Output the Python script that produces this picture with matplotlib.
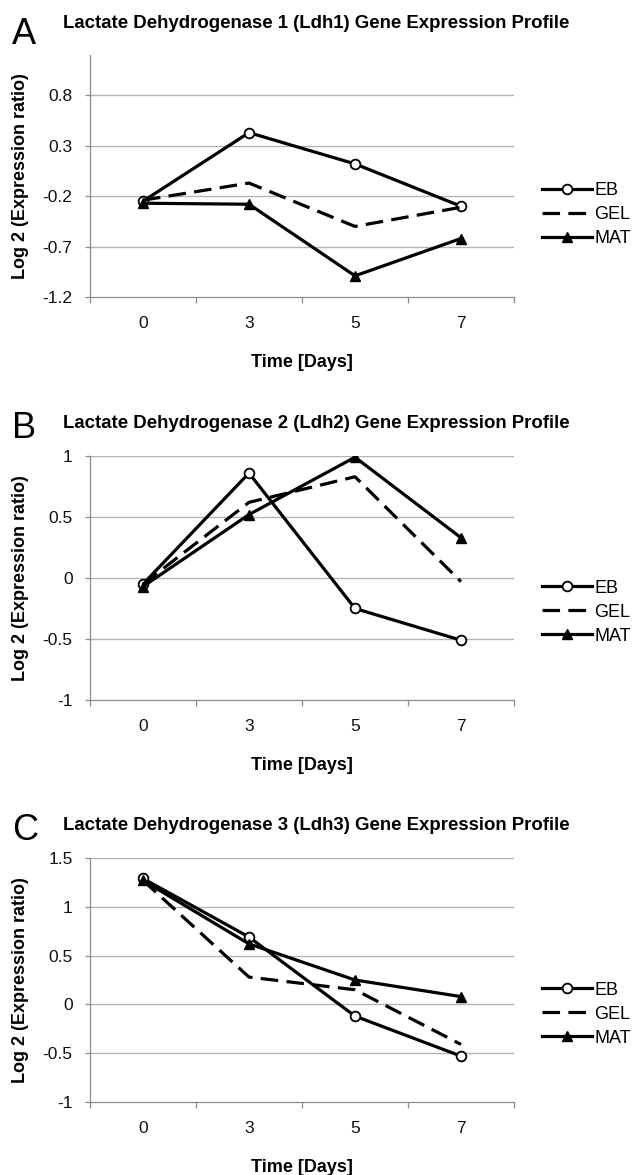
import matplotlib
matplotlib.use("Agg")
import matplotlib.pyplot as plt
from matplotlib.ticker import FixedLocator, FuncFormatter, NullFormatter

plt.rcParams['font.family'] = ['Liberation Sans', 'DejaVu Sans']

# x categories (days)
days = ['0', '3', '5', '7']
series_names = ['EB', 'GEL', 'MAT']

# Panel A: Ldh1
ldh1_eb = [-0.25, 0.43, 0.12, -0.30]
ldh1_gel = [-0.24, -0.07, -0.50, -0.31]
ldh1_mat = [-0.27, -0.28, -0.99, -0.62]
ldh1_yticks = [-1.2, -0.7, -0.2, 0.3, 0.8]
ldh1_ylim = (-1.2, 1.2)

# Panel B: Ldh2
ldh2_eb = [-0.05, 0.86, -0.25, -0.51]
ldh2_gel = [-0.05, 0.62, 0.83, -0.03]
ldh2_mat = [-0.07, 0.52, 0.99, 0.33]
ldh2_yticks = [-1, -0.5, 0, 0.5, 1]
ldh2_ylim = (-1, 1)

# Panel C: Ldh3
ldh3_eb = [1.29, 0.69, -0.12, -0.53]
ldh3_gel = [1.27, 0.28, 0.15, -0.41]
ldh3_mat = [1.27, 0.62, 0.25, 0.08]
ldh3_yticks = [-1, -0.5, 0, 0.5, 1, 1.5]
ldh3_ylim = (-1, 1.5)

titles = [
    'Lactate Dehydrogenase 1 (Ldh1) Gene Expression Profile',
    'Lactate Dehydrogenase 2 (Ldh2) Gene Expression Profile',
    'Lactate Dehydrogenase 3 (Ldh3) Gene Expression Profile',
]
letters = ['A', 'B', 'C']

panels = [
    (ldh1_eb, ldh1_gel, ldh1_mat, ldh1_yticks, ldh1_ylim),
    (ldh2_eb, ldh2_gel, ldh2_mat, ldh2_yticks, ldh2_ylim),
    (ldh3_eb, ldh3_gel, ldh3_mat, ldh3_yticks, ldh3_ylim),
]

W, H = 635, 1175
fig = plt.figure(figsize=(W / 100, H / 100), dpi=100)

# axes boxes in pixels: (top, bottom)
boxes = [(55, 297), (456, 700), (858, 1102)]
title_y = [23, 423, 826]
letter_dy = [12, 6, 4]
ax_left, ax_right = 90, 514
legend_y = [0.34, 0.36, 0.36]

grid_col = '#b4b4b4'
lw = 2.3

for i, (eb, gel, mat, yticks, ylim) in enumerate(panels):
    top, bot = boxes[i]
    ax = fig.add_axes([ax_left / W, 1 - bot / H, (ax_right - ax_left) / W, (bot - top) / H])
    x = list(range(len(days)))

    ax.plot(x, eb, color='black', lw=lw, marker='o', ms=7, mfc='white',
            mec='black', mew=1.3, label=series_names[0], zorder=3)
    ax.plot(x, gel, color='black', lw=lw, ls=(0, (5.5, 2.6)), label=series_names[1], zorder=3)
    ax.plot(x, mat, color='black', lw=lw, marker='^', ms=7.5, mfc='black',
            mec='black', label=series_names[2], zorder=3)

    ax.set_xlim(-0.5, len(days) - 0.5)
    ax.set_ylim(*ylim)
    ax.set_xticks(x)
    ax.set_xticklabels(days)
    ax.xaxis.set_minor_locator(FixedLocator([k - 0.5 for k in range(len(days) + 1)]))
    ax.xaxis.set_minor_formatter(NullFormatter())
    ax.tick_params(axis='x', which='major', length=0, pad=14, labelsize=12.5, labelcolor='#111111')
    ax.tick_params(axis='x', which='minor', length=4.5, width=0.9, color='#8c8c8c', direction='out')

    ax.yaxis.set_major_locator(FixedLocator(yticks))
    ax.yaxis.set_major_formatter(FuncFormatter(lambda v, p: ('%g' % round(v, 2))))
    ax.tick_params(axis='y', length=3.6, width=0.9, color='#8c8c8c', pad=9,
                   labelsize=12.5, labelcolor='#111111')

    for t in yticks:
        if t != ylim[0]:
            ax.axhline(t, color=grid_col, lw=1.0, zorder=1)

    for s in ['top', 'right']:
        ax.spines[s].set_visible(False)
    for s in ['left', 'bottom']:
        ax.spines[s].set_color('#8c8c8c')
        ax.spines[s].set_linewidth(0.9)

    ax.set_ylabel('Log 2 (Expression ratio)', fontsize=13, fontweight='bold')
    ax.yaxis.set_label_coords(-0.145, 0.5)
    ax.set_xlabel('Time [Days]', fontsize=13, fontweight='bold')
    ax.xaxis.set_label_coords(0.5, -0.235)

    leg = ax.legend(loc='center left', bbox_to_anchor=(1.066, legend_y[i]), frameon=False,
                    fontsize=13, handlelength=2.75, handletextpad=0.15, borderpad=0,
                    borderaxespad=0, labelspacing=0.38)

    fig.text(63 / W, 1 - title_y[i] / H, titles[i], fontsize=13.4, fontweight='bold',
             ha='left', va='center')
    fig.text(12 / W, 1 - (title_y[i] + letter_dy[i]) / H, letters[i], fontsize=26,
             ha='left', va='center')

fig.savefig('out.png', dpi=100)
